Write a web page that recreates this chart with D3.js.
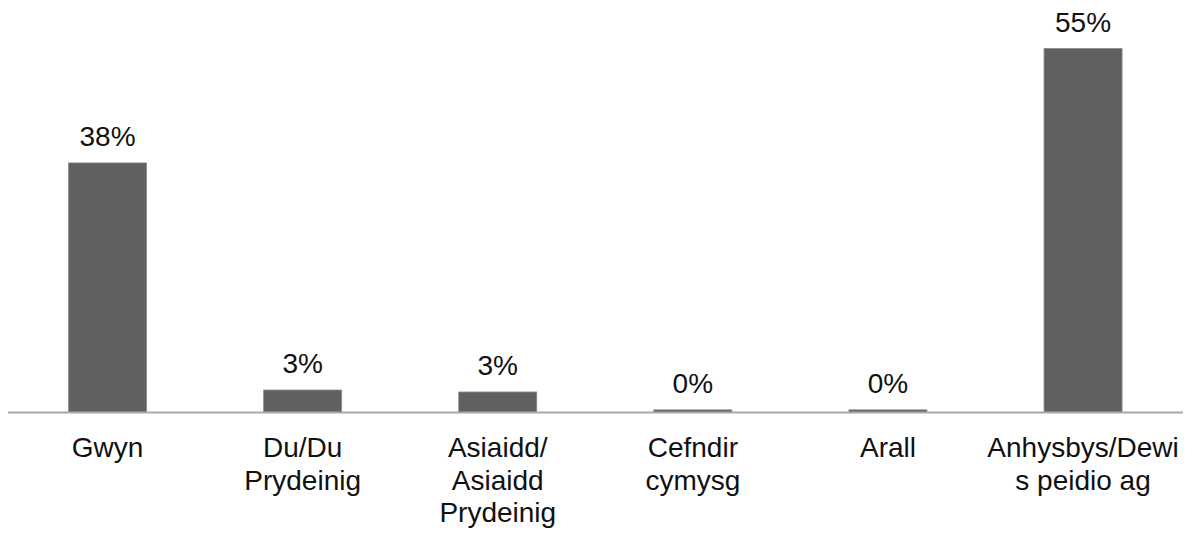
<!DOCTYPE html>
<html>
<head>
<meta charset="utf-8">
<script src="https://cdn.jsdelivr.net/npm/d3@7"></script>
<style>
  html, body { margin: 0; padding: 0; background: #fff; }
  svg { display: block; }
</style>
</head>
<body>
<svg id="chart" width="1201" height="534"></svg>
<script>
// Data
const categories = ["Gwyn", "Du/Du\nPrydeinig", "Asiaidd/\nAsiaidd\nPrydeinig", "Cefndir\ncymysg", "Arall", "Anhysbys/Dewi\ns peidio ag"];
const values = [37.7, 3.4, 3.1, 0.4, 0.4, 55.0];

const svg = d3.select("#chart");
const W = 1201, H = 534;
const baseline = 412.5;
const fontFamily = "'Liberation Sans', Arial, Helvetica, sans-serif";
const fontSize = 28;

const x = d3.scaleBand()
  .domain(categories)
  .range([10, 1180.6])
  .paddingInner(0.6)
  .paddingOuter(0.3);

const y = d3.scaleLinear()
  .domain([0, 55])
  .range([baseline, 48.4]);

const fmt = d3.format(".0%");

// Bars
svg.append("g").selectAll("rect")
  .data(values)
  .join("rect")
  .attr("x", (d, i) => x(categories[i]))
  .attr("y", d => y(d))
  .attr("width", x.bandwidth())
  .attr("height", d => y(0) - y(d))
  .attr("fill", "#606060")
  .attr("stroke", "#8c8c8c")
  .attr("stroke-width", 0.8);

// Axis line
svg.append("line")
  .attr("x1", 8).attr("x2", 1183)
  .attr("y1", y(0)).attr("y2", y(0))
  .attr("stroke", "#a8a8a8")
  .attr("stroke-width", 2);

// Value labels
svg.append("g").selectAll("text")
  .data(values)
  .join("text")
  .attr("x", (d, i) => x(categories[i]) + x.bandwidth() / 2)
  .attr("y", d => y(d) - 16.5)
  .attr("text-anchor", "middle")
  .attr("font-family", fontFamily)
  .attr("font-size", fontSize)
  .attr("fill", "#111")
  .text(d => fmt(Math.round(d) / 100));

// Category labels
const lab = svg.append("g").selectAll("text")
  .data(categories)
  .join("text")
  .attr("text-anchor", "middle")
  .attr("font-family", fontFamily)
  .attr("font-size", fontSize)
  .attr("fill", "#111")
  .attr("transform", d => `translate(${x(d) + x.bandwidth() / 2},457)`);

lab.selectAll("tspan")
  .data(d => d.split("\n"))
  .join("tspan")
  .attr("x", 0)
  .attr("y", (d, i) => i * 32.5)
  .text(d => d);
</script>
</body>
</html>
